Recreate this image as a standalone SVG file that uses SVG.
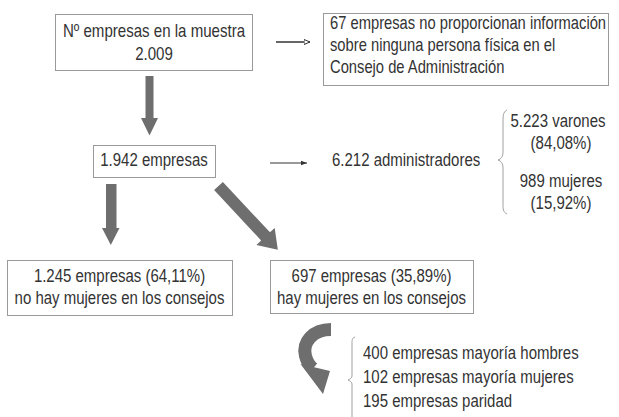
<svg xmlns="http://www.w3.org/2000/svg" width="619" height="417" viewBox="0 0 619 417">
<style>
.box{fill:#fff;stroke:#9a9a9a;stroke-width:1}
.t{font-family:"Liberation Sans",Arial,sans-serif;font-size:18.5px;fill:#333}
.c{text-anchor:middle}
.big{fill:#6e6e6e}
.brace{fill:none;stroke:#a0a0a0;stroke-width:1}
</style>
<defs>
<marker id="openhead" markerWidth="8" markerHeight="8" refX="6" refY="3" orient="auto" markerUnits="userSpaceOnUse">
<path d="M0,0.5 L6,3 L0,5.5 Z" fill="#fff" stroke="#333" stroke-width="1"/>
</marker>
<marker id="fillhead" markerWidth="8" markerHeight="8" refX="6" refY="3" orient="auto" markerUnits="userSpaceOnUse">
<path d="M0,0.8 L6,3 L0,5.2 Z" fill="#333"/>
</marker>
</defs>
<rect width="619" height="417" fill="#fff"/>

<g id="connectors">
<line x1="276" y1="42" x2="310" y2="42" stroke="#333" stroke-width="1.6" marker-end="url(#openhead)"/>
<line x1="270" y1="163" x2="307" y2="163" stroke="#333" stroke-width="1" marker-end="url(#fillhead)"/>
<polygon class="big" points="145.5,76 153.5,76 153.5,118 158,118 149.5,135.5 141,118 145.5,118"/>
<polygon class="big" points="106,184 116.5,184 116.5,228 119.5,228 110.8,245 102,228 106,228"/>
<polygon class="big" transform="translate(218.5,186) rotate(47)" points="0,-6 69,-6 69,-12.5 87,0 69,12.5 69,6 0,6"/>
<path d="M331,329.5 C313,329.5 302,342 305.5,356 C307,362 310,366 313,368.5" fill="none" stroke="#6e6e6e" stroke-width="13"/>
<polygon class="big" points="300.5,364 330,371 323,394"/>
<path class="brace" d="M507,110 C503,112 503,116 503,122 L503,152 C503,157 501,159 498,160 C501,161 503,163 503,168 L503,204 C503,209 503,212 507,214"/>
<path class="brace" d="M355,337 C352,338 352,340 352,344 L352,376 C352,378 350,379 348,380 C350,381 352,382 352,384 L352,417"/>
</g>

<g id="n1">
<rect class="box" x="55.5" y="14.5" width="197" height="56"/>
<text class="t c" transform="translate(154 37) scale(.815 1)">Nº empresas en la muestra</text>
<text class="t c" transform="translate(154 60) scale(.815 1)">2.009</text>
</g>

<g id="n2">
<rect class="box" x="323.5" y="13.5" width="285" height="72"/>
<text class="t" transform="translate(330 29) scale(.797 1)">67 empresas no proporcionan información</text>
<text class="t" transform="translate(330 51) scale(.797 1)">sobre ninguna persona física en el</text>
<text class="t" transform="translate(330 73) scale(.797 1)">Consejo de Administración</text>
</g>

<g id="n3">
<rect class="box" x="93.5" y="145.5" width="122" height="32"/>
<text class="t c" transform="translate(154 166) scale(.81 1)">1.942 empresas</text>
</g>

<g id="n4">
<text class="t" transform="translate(332 166) scale(.81 1)">6.212 administradores</text>
</g>

<g id="n5">
<text class="t c" transform="translate(558 127) scale(.81 1)">5.223 varones</text>
<text class="t c" transform="translate(561 149) scale(.81 1)">(84,08%)</text>
<text class="t c" transform="translate(561 187) scale(.81 1)">989 mujeres</text>
<text class="t c" transform="translate(561 209) scale(.81 1)">(15,92%)</text>
</g>

<g id="n6">
<rect class="box" x="7.5" y="260.5" width="225" height="55"/>
<text class="t c" transform="translate(119.5 282) scale(.81 1)">1.245 empresas (64,11%)</text>
<text class="t c" transform="translate(119.5 303.5) scale(.81 1)">no hay mujeres en los consejos</text>
</g>

<g id="n7">
<rect class="box" x="270.5" y="260.5" width="203" height="53"/>
<text class="t c" transform="translate(371.5 282) scale(.81 1)">697 empresas (35,89%)</text>
<text class="t c" transform="translate(371.5 303.5) scale(.81 1)">hay mujeres en los consejos</text>
</g>

<g id="n8">
<text class="t" transform="translate(363 358.5) scale(.81 1)">400 empresas mayoría hombres</text>
<text class="t" transform="translate(363 383) scale(.81 1)">102 empresas mayoría mujeres</text>
<text class="t" transform="translate(363 407) scale(.81 1)">195 empresas paridad</text>
</g>
</svg>
